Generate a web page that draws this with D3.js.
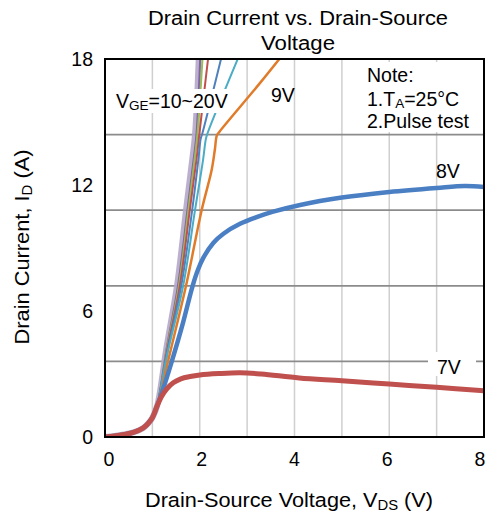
<!DOCTYPE html>
<html><head><meta charset="utf-8">
<script src="https://cdn.jsdelivr.net/npm/d3@7"></script>
<style>body{margin:0;background:#fff;} svg{display:block;font-family:"Liberation Sans",Arial,sans-serif;}</style>
</head><body>
<svg id="c" width="489" height="519"></svg>
<script>
// ---- data ----
const xTicks = [0, 2, 4, 6, 8];
const yTicks = [0, 6, 12, 18];
const xGrid = [1, 2, 3, 4, 5, 6, 7];
const yGrid = [3.6, 7.2, 10.8, 14.4];
const common = [[0,0],[0.2,0.05],[0.4,0.12],[0.6,0.22],[0.8,0.42],[0.9,0.62],[1.0,0.92],[1.1,1.48]];
const v7 = [[1.2,1.95],[1.3,2.28],[1.44,2.58],[1.6,2.77],[1.8,2.88],[2.0,2.95],[2.4,3.02],[2.85,3.06],[3.3,3.0],[4.1,2.81],[5,2.68],[6,2.52],[7,2.37],[8,2.2]];
const v8 = [[1.2,2.1],[1.41,3.6],[1.63,5.3],[1.85,7.2],[1.96,7.95],[2.08,8.55],[2.29,9.25],[2.5,9.68],[2.85,10.15],[3.2,10.47],[3.55,10.73],[4.12,11.05],[5,11.4],[6,11.67],[7,11.86],[7.6,11.95],[8,11.9]];
const v9 = [[1.2,2.3],[1.33,3.6],[1.71,7.2],[2.04,10.8],[2.25,12.7],[2.32,13.7],[2.36,14.35],[2.42,14.55],[3.27,16.85],[3.75,18.2]];
const v10 = [[1.3,3.8],[1.65,7.2],[1.90,10.8],[2.07,13.2],[2.13,14.2],[2.17,14.5],[2.82,18.1]];
const v12 = [[1.3,3.9],[1.61,7.2],[1.84,10.8],[1.97,13.2],[2.02,14.2],[2.06,14.5],[2.46,18.1]];
const v14 = [[1.3,4.0],[1.58,7.2],[1.79,10.8],[1.93,13.2],[1.99,14.4],[2.18,18.1]];
const v16 = [[1.3,4.1],[1.56,7.2],[1.76,10.8],[1.89,13.2],[1.95,14.4],[2.06,18.1]];
const v18 = [[1.3,4.2],[1.54,7.2],[1.74,10.8],[1.87,13.2],[1.93,14.4],[2.01,18.1]];
const v20 = [[1.3,4.3],[1.52,7.2],[1.71,10.8],[1.84,13.2],[1.90,14.4],[1.98,18.1]];

const series = [
  {name:"20V", pts:v20, color:"#b4a9c9", w:6},
  {name:"18V", pts:v18, color:"#8064a2", w:2},
  {name:"16V", pts:v16, color:"#9bbb59", w:2},
  {name:"14V", pts:v14, color:"#c0504d", w:2},
  {name:"12V", pts:v12, color:"#4f81bd", w:2},
  {name:"10V", pts:v10, color:"#4bacc6", w:2},
  {name:"9V", pts:v9, color:"#e07b2a", w:2.5},
  {name:"8V", pts:v8, color:"#4a7fc4", w:4.5},
  {name:"7V", pts:v7, color:"#c0504d", w:5}
];

const svg = d3.select("#c");
const L=105, R=484, T=59, B=437;
const x = d3.scaleLinear().domain([0,8]).range([L,R]);
const y = d3.scaleLinear().domain([0,18]).range([B,T]);

// grid
svg.append("g").selectAll("line").data(xGrid).join("line")
  .attr("x1",d=>x(d)).attr("x2",d=>x(d)).attr("y1",T).attr("y2",B)
  .attr("stroke","#cfcfcf").attr("stroke-width",1.5);
svg.append("g").selectAll("line").data(yGrid).join("line")
  .attr("x1",L).attr("x2",R).attr("y1",d=>y(d)).attr("y2",d=>y(d))
  .attr("stroke","#8c8c8c").attr("stroke-width",1.8);

// curves
const defs = svg.append("defs");
defs.append("clipPath").attr("id","clip").append("rect").attr("x",L).attr("y",T).attr("width",R-L).attr("height",B-T);
const cr = d3.line().x(d=>x(d[0])).y(d=>y(d[1])).curve(d3.curveCatmullRom.alpha(0.5));
const g = svg.append("g").attr("clip-path","url(#clip)");
series.forEach(s=>{
  const pts = common.concat(s.pts);
  g.append("path").attr("d",cr(pts))
    .attr("fill","none").attr("stroke",s.color).attr("stroke-width",s.w)
    .attr("stroke-linejoin","round").attr("stroke-linecap","round").attr("opacity",s.name==="20V"?0.9:1);
});

// label backgrounds + labels
const lab = svg.append("g").attr("font-size",19.5).attr("fill","#000");
lab.append("rect").attr("x",112).attr("y",89).attr("width",116).attr("height",24).attr("fill","#fff");
const tv = lab.append("text").attr("x",116).attr("y",108);
tv.append("tspan").text("V");
tv.append("tspan").attr("font-size",13.5).attr("dy",2).text("GE");
tv.append("tspan").attr("dy",-2).text("=10~20V");
lab.append("text").attr("x",271).attr("y",102).text("9V");
lab.append("text").attr("x",436).attr("y",178).text("8V");
lab.append("rect").attr("x",428).attr("y",352).attr("width",48).attr("height",24).attr("fill","#fff");
lab.append("text").attr("x",437).attr("y",374).text("7V");

// note
svg.append("rect").attr("x",356).attr("y",62).attr("width",126).attr("height",70).attr("fill","#fff");
const note = svg.append("g").attr("font-size",19.5);
note.append("text").attr("x",367).attr("y",82).text("Note:");
const n1 = note.append("text").attr("x",367).attr("y",105.5);
n1.append("tspan").text("1.T");
n1.append("tspan").attr("font-size",13.5).attr("dy",2).text("A");
n1.append("tspan").attr("dy",-2).text("=25°C");
note.append("text").attr("x",367).attr("y",128).text("2.Pulse test");

// frame
svg.append("rect").attr("x",L).attr("y",T).attr("width",R-L).attr("height",B-T)
  .attr("fill","none").attr("stroke","#000").attr("stroke-width",2);

// ticks
svg.append("g").attr("font-size",19.5).attr("text-anchor","middle").selectAll("text").data(xTicks).join("text")
  .attr("x",d=>x(d)+4-d*1.0).attr("y",466).text(d=>d);
svg.append("g").attr("font-size",19.5).attr("text-anchor","end").selectAll("text").data(yTicks).join("text")
  .attr("x",93).attr("y",d=>y(d)+7).text(d=>d);

// titles
const tt = svg.append("g").attr("font-size",19.5).attr("text-anchor","middle");
tt.append("text").attr("x",298).attr("y",25).attr("textLength",300).attr("lengthAdjust","spacingAndGlyphs").text("Drain Current vs. Drain-Source");
tt.append("text").attr("x",298).attr("y",50).attr("textLength",74).attr("lengthAdjust","spacingAndGlyphs").text("Voltage");
const xt = svg.append("text").attr("font-size",20.5).attr("text-anchor","middle").attr("x",289).attr("y",507)
  .attr("textLength",288).attr("lengthAdjust","spacingAndGlyphs");
xt.append("tspan").text("Drain-Source Voltage, V");
xt.append("tspan").attr("font-size",14).attr("dy",3).text("DS");
xt.append("tspan").attr("dy",-3).text(" (V)");
const yt = svg.append("text").attr("font-size",20.5).attr("text-anchor","middle")
  .attr("transform","translate(29,247) rotate(-90)")
  .attr("textLength",195).attr("lengthAdjust","spacingAndGlyphs");
yt.append("tspan").text("Drain Current, I");
yt.append("tspan").attr("font-size",14).attr("dy",3).text("D");
yt.append("tspan").attr("dy",-3).text(" (A)");
</script>
</body></html>
